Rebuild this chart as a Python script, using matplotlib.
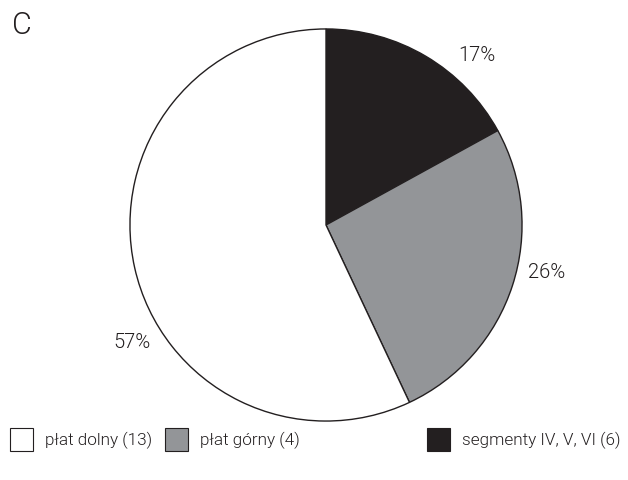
import matplotlib as mpl
mpl.use('Agg')
import matplotlib.pyplot as plt
from matplotlib.patches import Rectangle

plt.rcParams['font.family'] = ['Roboto', 'DejaVu Sans']
plt.rcParams['font.weight'] = 300

# Shares shown on the pie (clockwise from the top)
pie_labels = ['segmenty IV, V, VI (6)', 'płat górny (4)', 'płat dolny (13)']
pie_values = [17, 26, 57]
pie_colours = ['#231f20', '#939598', '#ffffff']

# Legend entries, left to right
legend_labels = ['płat dolny (13)', 'płat górny (4)', 'segmenty IV, V, VI (6)']
legend_colours = ['#ffffff', '#939598', '#231f20']

W, H = 628, 481
fig = plt.figure(figsize=(W / 100, H / 100), dpi=100)

# Pie axes placed in pixel terms: centre (326, 226), radius 198
cx, cy, r = 326, 226, 198
ax = fig.add_axes([(cx - r) / W, (H - cy - r) / H, 2 * r / W, 2 * r / H])
ax.pie(pie_values, colors=pie_colours, startangle=90, counterclock=False,
       radius=1, wedgeprops={'edgecolor': '#231f20', 'linewidth': 1.0})
ax.set_xlim(-1.01, 1.01)
ax.set_ylim(-1.01, 1.01)
ax.set_aspect('equal')
ax.axis('off')

label_pos = [(0.768, 0.869), (1.126, -0.237), (-0.99, -0.596)]
for val, (x, y) in zip(pie_values, label_pos):
    ax.text(x, y, f'{val}%', ha='center', va='center', fontsize=14.5,
            color='#231f20')

fig.text(12 / W, 1 - 26 / H, 'C', fontsize=22, ha='left', va='center',
         color='#231f20')

# Legend row along the bottom
box_x = [10, 165, 427]
box_size = 23
row_y = 440
for bx, lab, col in zip(box_x, legend_labels, legend_colours):
    fig.patches.append(Rectangle((bx / W, (H - row_y - box_size / 2) / H),
                                 box_size / W, box_size / H,
                                 transform=fig.transFigure, facecolor=col,
                                 edgecolor='#231f20', linewidth=0.8))
    fig.text((bx + 35) / W, 1 - row_y / H, lab, fontsize=12.3, ha='left',
             va='center', color='#231f20')

fig.savefig('out.png', dpi=100)
